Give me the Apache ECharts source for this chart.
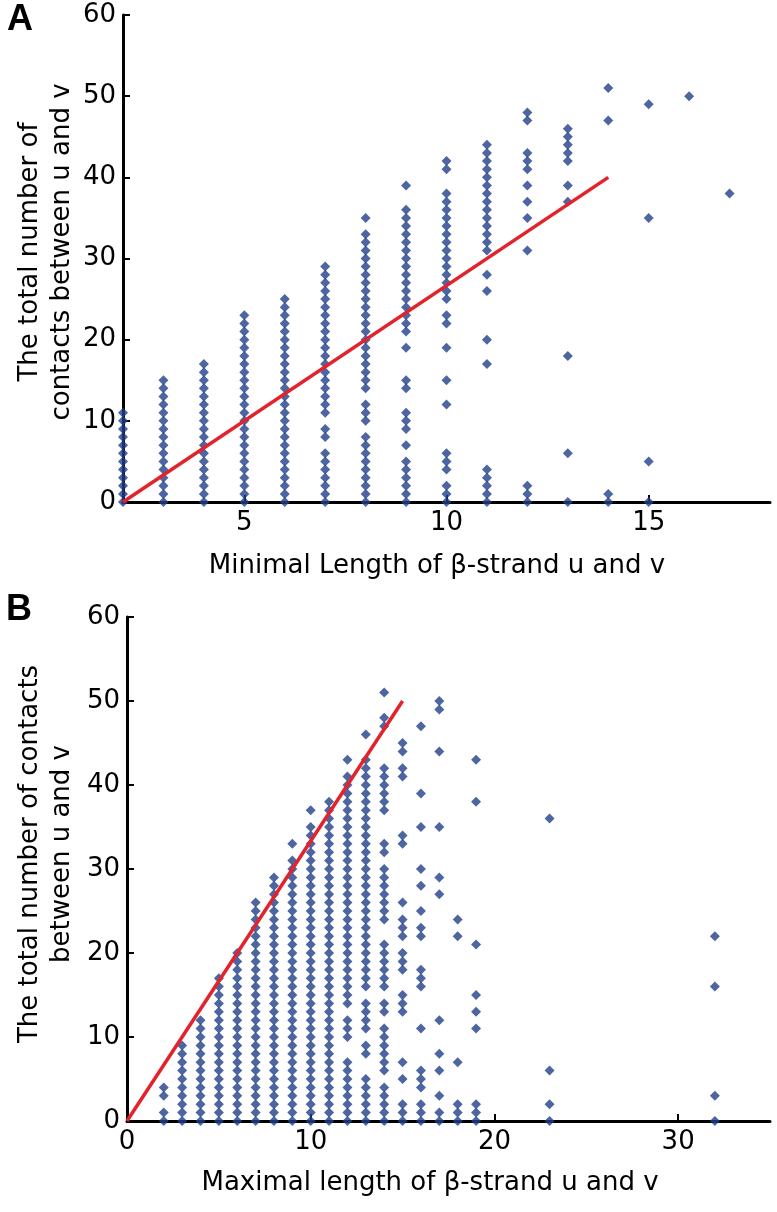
<!DOCTYPE html>
<html>
<head>
<meta charset="utf-8">
<script src="https://cdn.jsdelivr.net/npm/echarts@6/dist/echarts.min.js"></script>
<style>
html,body{margin:0;padding:0;background:#fff;}
#chart{width:777px;height:1212px;}
</style>
</head>
<body>
<div id="chart"></div>
<script>
// ---------- Panel A: minimal strand length vs contacts ----------
const minLenX = [2, 3, 4, 5, 6, 7, 8, 9, 10, 11, 12, 13, 14, 15, 16, 17];
const contactsA = [
  [0,1,2,3,4,5,6,7,8,9,10,11],
  [0,1,2,3,4,5,6,7,8,9,10,11,12,13,14,15],
  [0,1,2,3,4,5,6,7,8,9,10,11,12,13,14,15,16,17],
  [0,1,2,3,4,5,6,7,8,9,10,11,12,13,14,15,16,17,18,19,20,21,22,23],
  [0,1,2,3,4,5,6,7,8,9,10,11,12,13,14,15,16,17,18,19,20,21,22,23,24,25],
  [0,1,2,3,4,5,6,8,9,11,12,13,14,15,16,17,18,19,20,21,22,23,24,25,26,27,28,29],
  [0,1,2,3,4,5,6,7,8,10,11,12,14,15,16,17,18,19,20,21,22,23,24,25,26,27,28,29,30,31,32,33,35],
  [0,1,2,3,4,5,7,9,10,11,14,15,19,21,22,23,24,25,26,27,28,29,30,31,32,33,34,35,36,39],
  [0,1,2,4,5,6,12,15,19,22,23,25,26,27,28,29,30,31,32,33,34,35,36,37,38,41,42],
  [0,1,2,3,4,17,20,26,28,31,32,33,34,35,36,37,38,39,40,41,42,43,44],
  [0,1,2,31,35,37,39,41,42,43,47,48],
  [0,6,18,37,39,42,43,44,45,46],
  [0,1,47,51],
  [0,5,35,49],
  [50],
  [38]
];
const fitA = [[2, 0], [14, 40]];
const xTicksA = [5, 10, 15];

// ---------- Panel B: maximal strand length vs contacts ----------
const maxLenX = [2, 3, 4, 5, 6, 7, 8, 9, 10, 11, 12, 13, 14, 15, 16, 17, 18, 19, 23, 32];
const contactsB = [
  [0,1,3,4],
  [0,1,2,3,4,5,6,7,8,9],
  [0,1,2,3,4,5,6,7,8,9,10,11,12],
  [0,1,2,3,4,5,6,7,8,9,10,11,12,13,14,15,16,17],
  [0,1,2,3,4,5,6,7,8,9,10,11,12,13,14,15,16,17,18,19,20],
  [0,1,2,3,4,5,6,7,8,9,10,11,12,13,14,15,16,17,18,19,20,21,22,23,24,25,26],
  [0,1,2,3,4,5,6,7,8,9,10,11,12,13,14,15,16,17,18,19,20,21,22,23,24,25,26,27,28,29],
  [0,1,2,3,4,5,6,7,8,9,10,11,12,13,14,15,16,17,18,19,20,21,22,23,24,25,26,27,28,29,30,31,33],
  [0,1,2,3,4,5,6,7,8,9,10,11,12,13,14,15,16,17,18,19,20,21,22,23,24,25,26,27,28,29,30,31,32,33,34,35,37],
  [0,1,2,3,4,5,6,7,8,9,10,11,12,13,14,15,16,17,18,19,20,21,22,23,24,25,26,27,28,29,30,31,32,33,34,35,36,37,38],
  [0,1,2,3,4,5,6,7,10,11,12,14,15,16,17,18,19,20,21,22,23,24,25,26,27,28,29,30,31,32,33,34,35,36,37,38,39,40,41,43],
  [0,1,2,3,4,5,8,9,11,12,13,14,16,17,18,19,20,21,22,23,24,25,26,27,28,29,30,31,32,33,34,35,36,37,38,39,40,41,42,43,46],
  [0,1,2,3,4,6,7,8,9,10,11,13,14,16,17,18,19,20,21,24,25,26,27,28,29,30,32,33,37,38,39,40,41,42,47,48,51],
  [0,1,2,5,7,13,14,15,18,19,20,22,23,24,26,33,34,41,42,44,45],
  [0,1,2,4,5,6,11,16,17,18,22,23,25,28,30,35,39,47],
  [0,1,3,6,8,12,27,29,35,44,49,50],
  [0,1,2,7,22,24],
  [0,1,2,11,13,15,21,38,43],
  [0,2,6,36],
  [0,3,16,22]
];
const fitB = [[0, 0], [15, 50]];
const xTicksB = [0, 10, 20, 30];
const yTicks = [0, 10, 20, 30, 40, 50, 60];

function toPoints(xs, ys) {
  const pts = [];
  xs.forEach((x, i) => ys[i].forEach(v => pts.push([x, v])));
  return pts;
}

const FONT = '"DejaVu Sans", "Liberation Sans", Arial, sans-serif';
const BLUE = '#213E88';
const RED = '#E3232C';
const TICK_FS = 26;
const TITLE_FS = 26;

function yAxisCfg(gridIndex, margin) {
  return {
    type: 'value', gridIndex, min: 0, max: 60, interval: 10,
    axisLine: { show: true, onZero: false, lineStyle: { color: '#000', width: 3 } },
    axisTick: { show: true, inside: true, length: 7, lineStyle: { color: '#000', width: 2 } },
    axisLabel: { color: '#000', fontSize: TICK_FS, fontFamily: FONT, margin,
                 customValues: yTicks },
    splitLine: { show: false }
  };
}
function xAxisCfg(gridIndex, min, max, ticks, margin) {
  return {
    type: 'value', gridIndex, min, max,
    axisLine: { show: true, onZero: false, lineStyle: { color: '#000', width: 3 } },
    axisTick: { show: true, inside: true, length: 7, lineStyle: { color: '#000', width: 2 },
                customValues: ticks },
    axisLabel: { color: '#000', fontSize: TICK_FS, fontFamily: FONT, margin,
                 customValues: ticks, showMinLabel: true, showMaxLabel: true },
    splitLine: { show: false }
  };
}

const chart = echarts.init(document.getElementById('chart'), null, { renderer: 'canvas' });
chart.setOption({
  backgroundColor: '#fff',
  animation: false,
  grid: [
    { left: 123, top: 15, width: 647, height: 487 },
    { left: 127, top: 617, width: 643, height: 504 }
  ],
  xAxis: [
    xAxisCfg(0, 2, 18, xTicksA, 8),
    xAxisCfg(1, 0, 35, xTicksB, 8)
  ],
  yAxis: [
    yAxisCfg(0, 7),
    yAxisCfg(1, 7)
  ],
  series: [
    { type: 'scatter', xAxisIndex: 0, yAxisIndex: 0, data: toPoints(minLenX, contactsA),
      symbol: 'diamond', symbolSize: [10, 10], itemStyle: { color: BLUE }, clip: false, z: 3 },
    { type: 'line', xAxisIndex: 0, yAxisIndex: 0, data: fitA, showSymbol: false,
      lineStyle: { color: RED, width: 3.5 }, z: 5 },
    { type: 'scatter', xAxisIndex: 1, yAxisIndex: 1, data: toPoints(maxLenX, contactsB),
      symbol: 'diamond', symbolSize: [10, 10], itemStyle: { color: BLUE }, clip: false, z: 3 },
    { type: 'line', xAxisIndex: 1, yAxisIndex: 1, data: fitB, showSymbol: false,
      lineStyle: { color: RED, width: 3.5 }, z: 5 }
  ],
  graphic: [
    { type: 'text', left: 7, top: 2, style: { text: 'A', fontSize: 36, fontWeight: 'bold', fontFamily: '"Liberation Sans", Arial, sans-serif', fill: '#000' } },
    { type: 'text', left: 6, top: 592, style: { text: 'B', fontSize: 36, fontWeight: 'bold', fontFamily: '"Liberation Sans", Arial, sans-serif', fill: '#000' } },
    { type: 'text', x: 437, y: 566, style: { text: 'Minimal Length of β-strand u and v', fontSize: TITLE_FS, fontFamily: FONT, fill: '#000', align: 'center', verticalAlign: 'middle' } },
    { type: 'text', x: 430, y: 1183, style: { text: 'Maximal length of β-strand u and v', fontSize: TITLE_FS, fontFamily: FONT, fill: '#000', align: 'center', verticalAlign: 'middle' } },
    { type: 'text', x: 46, y: 252, rotation: Math.PI / 2,
      style: { text: 'The total number of\ncontacts between u and v', fontSize: TITLE_FS, lineHeight: 32, fontFamily: FONT, fill: '#000', align: 'center', verticalAlign: 'middle' } },
    { type: 'text', x: 46, y: 854, rotation: Math.PI / 2,
      style: { text: 'The total number of contacts\nbetween u and v', fontSize: TITLE_FS, lineHeight: 32, fontFamily: FONT, fill: '#000', align: 'center', verticalAlign: 'middle' } }
  ]
});
</script>
</body>
</html>
